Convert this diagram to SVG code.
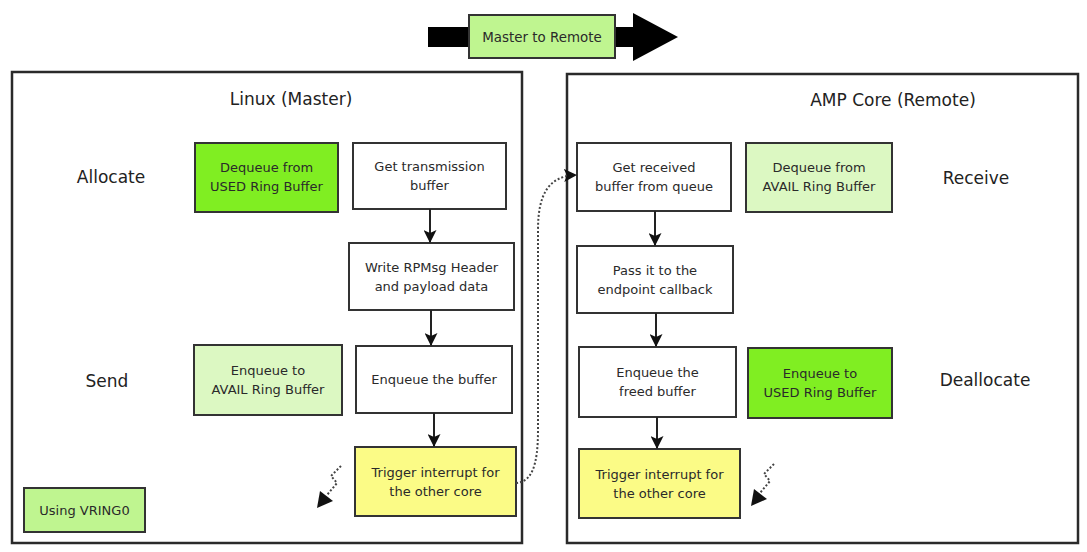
<svg xmlns="http://www.w3.org/2000/svg" width="1087" height="552" viewBox="0 0 1087 552">
<style>
.box{stroke:#333;stroke-width:2}
.frame{fill:none;stroke:#2a2a2a;stroke-width:2.5}
.w{fill:#ffffff}
.g1{fill:#80ee22}
.g2{fill:#dcf8c2}
.g3{fill:#bff590}
.y{fill:#fbfb86}
.t{font-family:"DejaVu Sans",Verdana,sans-serif;font-size:13px;fill:#2a2a2a;text-anchor:middle}
.h{font-family:"DejaVu Sans",Verdana,sans-serif;font-size:17px;fill:#222;text-anchor:middle}
.c{fill:none;stroke:#222;stroke-width:2}
.d{fill:none;stroke:#444;stroke-width:2;stroke-dasharray:2 2}
</style>
<defs>
<marker id="ah" markerWidth="13" markerHeight="13" refX="12" refY="6.5" orient="auto" markerUnits="userSpaceOnUse">
<path d="M0,0 L13,6.5 L0,13 L3,6.5 Z" fill="#111"/>
</marker>
</defs>
<rect width="1087" height="552" fill="#fff"/>

<g id="direction">
<rect x="428" y="27" width="206" height="20" fill="#000"/>
<polygon points="633,13 678,37 633,61" fill="#000"/>
<rect x="469" y="15" width="146" height="43" class="box g3"/>
<text x="542" y="42" class="t" style="font-size:13.4px">Master to Remote</text>
</g>

<g id="linux-frame">
<rect x="12" y="72" width="510" height="471" class="frame"/>
<text x="291" y="105" class="h">Linux (Master)</text>
</g>
<g id="amp-frame">
<rect x="567" y="74" width="511" height="469" class="frame"/>
<text x="893" y="106" class="h">AMP Core (Remote)</text>
</g>

<g id="lbl-allocate"><text x="111" y="183" class="h">Allocate</text></g>
<g id="lbl-send"><text x="107" y="387" class="h">Send</text></g>
<g id="lbl-receive"><text x="976" y="184" class="h">Receive</text></g>
<g id="lbl-deallocate"><text x="985" y="386" class="h">Deallocate</text></g>

<g id="dequeue-used">
<rect x="195" y="143" width="143" height="69" class="box g1"/>
<text x="266.5" y="172" class="t">Dequeue from</text>
<text x="266.5" y="191" class="t">USED Ring Buffer</text>
</g>
<g id="get-tx">
<rect x="353" y="143" width="153" height="66" class="box w"/>
<text x="429.5" y="171" class="t">Get transmission</text>
<text x="429.5" y="190" class="t">buffer</text>
</g>
<g id="write-hdr">
<rect x="349" y="243" width="165" height="67" class="box w"/>
<text x="431.5" y="272" class="t">Write RPMsg Header</text>
<text x="431.5" y="291" class="t">and payload data</text>
</g>
<g id="enqueue-avail">
<rect x="194" y="345" width="148" height="70" class="box g2"/>
<text x="268" y="375" class="t">Enqueue to</text>
<text x="268" y="394" class="t">AVAIL Ring Buffer</text>
</g>
<g id="enqueue-buf">
<rect x="356" y="346" width="156" height="67" class="box w"/>
<text x="434" y="384" class="t">Enqueue the buffer</text>
</g>
<g id="trigger-left">
<rect x="355" y="447" width="161" height="69" class="box y"/>
<text x="435.5" y="477" class="t">Trigger interrupt for</text>
<text x="435.5" y="496" class="t">the other core</text>
</g>
<g id="using-vring0">
<rect x="24" y="488" width="121" height="44" class="box g3"/>
<text x="84.5" y="515" class="t">Using VRING0</text>
</g>

<g id="get-rx">
<rect x="577" y="143" width="154" height="68" class="box w"/>
<text x="654" y="172" class="t">Get received</text>
<text x="654" y="191" class="t">buffer from queue</text>
</g>
<g id="dequeue-avail">
<rect x="746" y="143" width="146" height="69" class="box g2"/>
<text x="819" y="172" class="t">Dequeue from</text>
<text x="819" y="191" class="t">AVAIL Ring Buffer</text>
</g>
<g id="pass-cb">
<rect x="577" y="246" width="156" height="67" class="box w"/>
<text x="655" y="275" class="t">Pass it to the</text>
<text x="655" y="294" class="t">endpoint callback</text>
</g>
<g id="enqueue-freed">
<rect x="579" y="347" width="157" height="70" class="box w"/>
<text x="657.5" y="377" class="t">Enqueue the</text>
<text x="657.5" y="396" class="t">freed buffer</text>
</g>
<g id="enqueue-used">
<rect x="748" y="348" width="144" height="70" class="box g1"/>
<text x="820" y="378" class="t">Enqueue to</text>
<text x="820" y="397" class="t">USED Ring Buffer</text>
</g>
<g id="trigger-right">
<rect x="579" y="449" width="161" height="69" class="box y"/>
<text x="659.5" y="479" class="t">Trigger interrupt for</text>
<text x="659.5" y="498" class="t">the other core</text>
</g>

<g id="connectors">
<line x1="430" y1="209" x2="430" y2="242" class="c" marker-end="url(#ah)"/>
<line x1="431" y1="310" x2="431" y2="345" class="c" marker-end="url(#ah)"/>
<line x1="434" y1="413" x2="434" y2="446" class="c" marker-end="url(#ah)"/>
<line x1="655" y1="211" x2="655" y2="245" class="c" marker-end="url(#ah)"/>
<line x1="656" y1="313" x2="656" y2="346" class="c" marker-end="url(#ah)"/>
<line x1="657" y1="417" x2="657" y2="448" class="c" marker-end="url(#ah)"/>
<path d="M516,483 C532,482 538,465 538,430 L538,230 C538,195 548,176 576,175" class="d" marker-end="url(#ah)"/>
<path d="M341,466 L331,476 L337,483 L327,495" class="d"/>
<polygon points="317,508 320,491 333,501" fill="#111"/>
<path d="M774,464 L764,474 L770,481 L760,493" class="d"/>
<polygon points="751,506 754,489 767,499" fill="#111"/>
</g>
</svg>
